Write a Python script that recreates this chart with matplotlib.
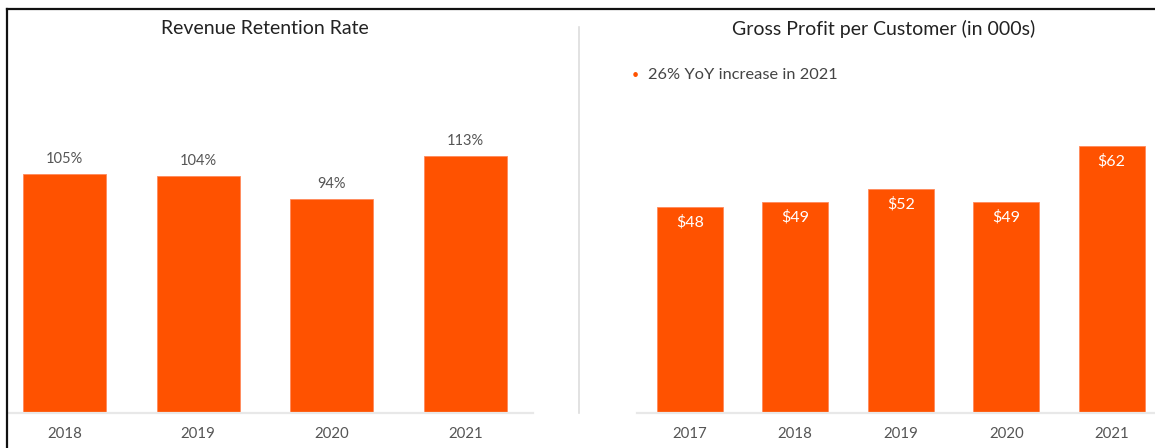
import matplotlib.pyplot as plt
from matplotlib.lines import Line2D

plt.rcParams['font.family'] = ['Lato', 'DejaVu Sans']

# data
rrr_years = ["2018", "2019", "2020", "2021"]
rrr_values = [105, 104, 94, 113]
rrr_labels = ["105%", "104%", "94%", "113%"]

gpc_years = ["2017", "2018", "2019", "2020", "2021"]
gpc_values = [48, 49, 52, 49, 62]
gpc_labels = ["$48", "$49", "$52", "$49", "$62"]

ORANGE = "#FF5200"
W, H = 1155, 448

fig = plt.figure(figsize=(W / 100, H / 100), dpi=100)


def px_ax(x0, x1, ytop, ybot):
    return fig.add_axes([x0 / W, 1 - ybot / H, (x1 - x0) / W, (ybot - ytop) / H])


def style(ax):
    for s in ("left", "right", "top"):
        ax.spines[s].set_visible(False)
    ax.spines["bottom"].set_color("#e8e8e8")
    ax.spines["bottom"].set_linewidth(1.6)
    ax.set_yticks([])
    ax.tick_params(axis="x", length=0, pad=10, labelsize=10.8, labelcolor="#555555")


# left panel
ax1 = px_ax(9, 533, 20, 413)
xs = range(len(rrr_years))
ax1.bar(xs, rrr_values, width=0.62, color=ORANGE, edgecolor="#ff8a5c", linewidth=0.6)
ax1.set_xlim(-0.415, 3.504)
ax1.set_ylim(0, 393 / 2.275)
ax1.set_xticks(list(xs), rrr_years)
for x, v, lab in zip(xs, rrr_values, rrr_labels):
    ax1.annotate(lab, (x, v), xytext=(0, 6), textcoords="offset points",
                 ha="center", va="bottom", fontsize=10.5, color="#555555")
style(ax1)

# right panel
ax2 = px_ax(637, 1155, 20, 413)
xs2 = range(len(gpc_years))
ax2.bar(xs2, gpc_values, width=0.625, color=ORANGE, edgecolor="#ff8a5c", linewidth=0.6)
ax2.set_xlim(-0.5, 4.41)
ax2.set_ylim(0, 393 / 4.3)
ax2.set_xticks(list(xs2), gpc_years)
for x, v, lab in zip(xs2, gpc_values, gpc_labels):
    ax2.annotate(lab, (x, v), xytext=(0, -11), textcoords="offset points",
                 ha="center", va="center", fontsize=11.5, color="#ffffff")
style(ax2)

# titles and note
fig.text(265 / W, 1 - 29 / H, "Revenue Retention Rate", ha="center", va="center",
         fontsize=14, color="#222222")
fig.text(884 / W, 1 - 29 / H, "Gross Profit per Customer (in 000s)", ha="center",
         va="center", fontsize=14, color="#222222")
fig.text(632 / W, 1 - 75 / H, "•", ha="left", va="center", fontsize=9, color=ORANGE)
fig.text(648 / W, 1 - 75 / H, "26% YoY increase in 2021", ha="left", va="center",
         fontsize=11.8, color="#444444")

# divider and frame
fig.add_artist(Line2D([579 / W, 579 / W], [1 - 27 / H, 1 - 413 / H],
                      color="#dddddd", lw=1.2, transform=fig.transFigure))
fig.add_artist(Line2D([7 / W, 1], [1 - 9.5 / H, 1 - 9.5 / H],
                      color="#111111", lw=1.6, transform=fig.transFigure))
fig.add_artist(Line2D([7 / W, 7 / W], [0, 1 - 9.5 / H],
                      color="#111111", lw=1.6, transform=fig.transFigure))

fig.savefig("out.png", dpi=100, facecolor="white")
